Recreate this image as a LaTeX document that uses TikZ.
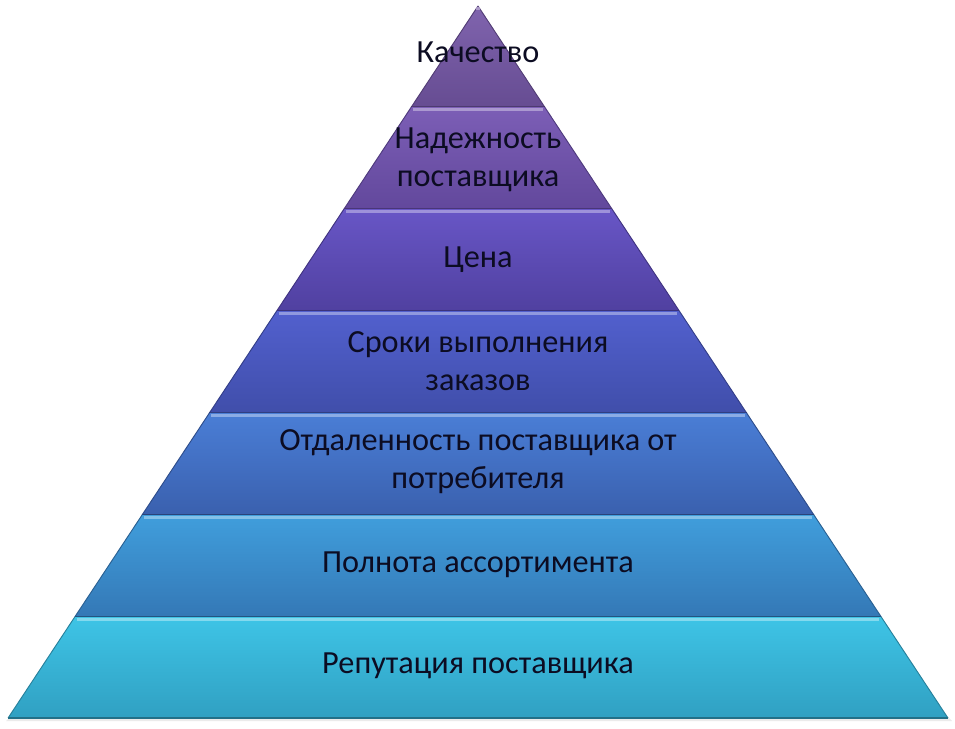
\documentclass[tikz,border=0pt]{standalone}
\usepackage{fontspec}
\setmainfont{Carlito}
\usetikzlibrary{calc}
\definecolor{ink}{HTML}{0C0C22}
\definecolor{bandat}{HTML}{8064AE}
\definecolor{bandab}{HTML}{664C92}
\definecolor{bandbt}{HTML}{7C5EB6}
\definecolor{bandbb}{HTML}{62489C}
\definecolor{bandct}{HTML}{6856C6}
\definecolor{bandcb}{HTML}{5040A0}
\definecolor{banddt}{HTML}{5260CE}
\definecolor{banddb}{HTML}{404EAA}
\definecolor{bandet}{HTML}{4A7ED6}
\definecolor{bandeb}{HTML}{3A60AE}
\definecolor{bandft}{HTML}{409EDC}
\definecolor{bandfb}{HTML}{3478B6}
\definecolor{bandgt}{HTML}{3EC4E6}
\definecolor{bandgb}{HTML}{30A0C2}
\begin{document}
\begin{tikzpicture}[x=.75pt,y=.75pt,every node/.style={font=\fontsize{24.2}{28.5}\selectfont,text=ink,align=center}]
\useasboundingbox (0,0) rectangle (955,728);
% faint shadow under the base
\fill[black!8] (6,7) -- (952,7) -- (948,11) -- (10,11) -- cycle;
% bands, top to bottom
\foreach \n/\t/\b in {a/722/621,b/621/519,c/519/417,d/417/315,e/315/213,f/213/111,g/111/10}{
  \pgfmathsetmacro{\lt}{478-0.66*(722-\t)}
  \pgfmathsetmacro{\rt}{478+0.66*(722-\t)}
  \pgfmathsetmacro{\lb}{478-0.66*(722-\b)}
  \pgfmathsetmacro{\rb}{478+0.66*(722-\b)}
  \shade[top color=band\n t,bottom color=band\n b] (\lt,\t) -- (\rt,\t) -- (\rb,\b) -- (\lb,\b) -- cycle;
  \draw[band\n b!80!black,line width=.7] (\lt,\t) -- (\lb,\b) (\rt,\t) -- (\rb,\b);
  \draw[band\n b!70!black,line width=1.2] (\lb,\b) -- (\rb,\b);
  \draw[band\n t!55!white,line width=2.5,opacity=.8] ($(\lt,\t)+(2,-2.5)$) -- ($(\rt,\t)+(-2,-2.5)$);
}
\node (q) at (478,676) {Качество};
\node (n) at (478,568) {Надежность\\поставщика};
\node (c) at (478,468) {Цена};
\node (s) at (478,367) {Сроки выполнения\\заказов};
\node (o) at (478,266) {Отдаленность поставщика от\\потребителя};
\node (p) at (478,163) {Полнота ассортимента};
\node (r) at (478,62) {Репутация поставщика};
\end{tikzpicture}
\end{document}
